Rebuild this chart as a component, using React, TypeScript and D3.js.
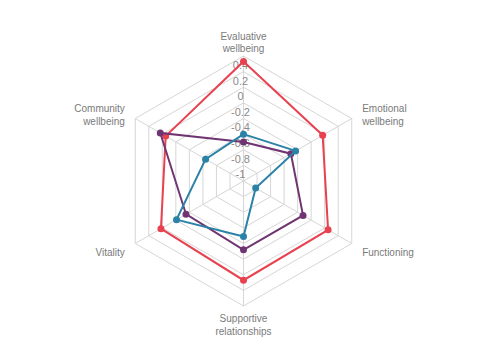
import React, { useEffect, useRef } from 'react'
import * as d3 from 'd3'

const axes = [
  ['Evaluative', 'wellbeing'],
  ['Emotional', 'wellbeing'],
  ['Functioning'],
  ['Supportive', 'relationships'],
  ['Vitality'],
  ['Community', 'wellbeing'],
]

const tickValues = [-1, -0.8, -0.6, -0.4, -0.2, 0, 0.2, 0.4]

const seriesRed = [0.33, -0.03, 0.05, 0.07, 0.02, -0.05]
const seriesPurple = [-0.7, -0.5, -0.32, -0.32, -0.35, 0.03]
const seriesBlue = [-0.6, -0.43, -1.02, -0.49, -0.21, -0.64]

const colors = ['#e8414f', '#6f3572', '#2b82a7']

export default function App() {
  const ref = useRef<SVGSVGElement>(null)

  useEffect(() => {
    const width = 483, height = 360
    const cx = 243.5, cy = 181, radius = 125
    const svg = d3.select(ref.current)
    svg.selectAll('*').remove()
    svg.attr('width', width).attr('height', height)

    const r = d3.scaleLinear().domain([-1.2, 0.4]).range([0, radius])
    const angle = (i: number) => -Math.PI / 2 + (i * 2 * Math.PI) / axes.length
    const pt = (i: number, v: number): [number, number] => [
      cx + r(v) * Math.cos(angle(i)),
      cy + r(v) * Math.sin(angle(i)),
    ]

    const g = svg.append('g')
    const ringLine = d3.line().curve(d3.curveLinearClosed)

    // rings
    tickValues.forEach(t => {
      g.append('path')
        .attr('d', ringLine(axes.map((_, i) => pt(i, t))))
        .attr('fill', 'none')
        .attr('stroke', '#d6d6d6')
        .attr('stroke-width', 1)
    })

    // spokes
    axes.forEach((_, i) => {
      const [x, y] = pt(i, 0.4)
      g.append('line')
        .attr('x1', cx).attr('y1', cy)
        .attr('x2', x).attr('y2', y)
        .attr('stroke', '#d6d6d6')
        .attr('stroke-width', 1)
    })

    // tick labels
    g.selectAll('text.tick')
      .data(tickValues)
      .enter().append('text')
      .attr('class', 'tick')
      .attr('x', cx - 3)
      .attr('y', d => cy - r(d) + 10)
      .attr('text-anchor', 'middle')
      .attr('dominant-baseline', 'middle')
      .style('font-family', 'Liberation Sans, Arial, sans-serif')
      .style('font-size', '11px')
      .style('fill', '#8a8a8a')
      .text(d => String(d))

    // point labels
    axes.forEach((lines, i) => {
      const a = angle(i)
      const cos = Math.cos(a), sin = Math.sin(a)
      const lr = radius + 12
      const x = cx + lr * cos
      const y = cy + lr * sin
      const anchor = Math.abs(cos) < 0.01 ? 'middle' : cos > 0 ? 'start' : 'end'
      const lh = 12.5
      let y0: number
      if (sin < -0.99) y0 = y - (lines.length - 1) * lh + 8
      else if (sin > 0.99) y0 = y + 4
      else y0 = y - ((lines.length - 1) * lh) / 2 + 6
      const t = g.append('text')
        .attr('text-anchor', anchor)
        .style('font-family', 'Liberation Sans, Arial, sans-serif')
        .style('font-size', '10px')
        .style('fill', '#7a7a7a')
      lines.forEach((s, k) => {
        t.append('tspan').attr('x', x).attr('y', y0 + k * lh).text(s)
      })
    })

    // series
    const allSeries = [seriesRed, seriesPurple, seriesBlue]
    allSeries.forEach((vals, si) => {
      const pts = vals.map((v, i) => pt(i, v))
      g.append('path')
        .attr('d', ringLine(pts))
        .attr('fill', 'none')
        .attr('stroke', colors[si])
        .attr('stroke-width', 2)
      g.selectAll(null)
        .data(pts)
        .enter().append('circle')
        .attr('cx', d => d[0])
        .attr('cy', d => d[1])
        .attr('r', 3.5)
        .attr('fill', colors[si])
    })
  }, [])

  return (
    <div>
      <svg ref={ref} style={{ display: 'block', position: 'absolute', left: 0, top: 0 }} />
    </div>
  )
}
